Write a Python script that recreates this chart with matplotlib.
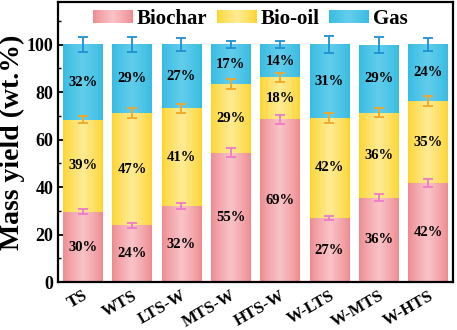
import numpy as np
import matplotlib
matplotlib.use("Agg")
import matplotlib.pyplot as plt
from matplotlib.colors import to_rgb
from matplotlib.patches import Rectangle
from matplotlib.legend_handler import HandlerBase
from matplotlib.transforms import ScaledTranslation

categories = ["TS", "WTS", "LTS-W", "MTS-W", "HTS-W", "W-LTS", "W-MTS", "W-HTS"]
biochar = [29.6, 23.9, 32.0, 54.6, 68.6, 27.0, 35.6, 41.7]
biooil = [38.8, 47.3, 41.2, 28.9, 17.6, 42.2, 35.8, 34.6]
gas = [31.6, 28.8, 26.8, 16.6, 13.8, 30.8, 28.6, 23.7]
biochar_err = [1.0, 0.9, 1.2, 1.8, 2.0, 1.0, 1.5, 1.6]
biooil_err = [1.5, 2.2, 2.0, 2.0, 1.7, 2.2, 1.8, 2.2]
gas_err = [3.2, 3.2, 2.8, 1.5, 1.5, 3.5, 3.3, 2.8]
series_names = ["Biochar", "Bio-oil", "Gas"]

plt.rcParams['font.family'] = ['Liberation Serif', 'DejaVu Serif']
plt.rcParams['font.weight'] = 'bold'

grad = {
    "Biochar": ("#ee8a90", "#f8c3c7"),
    "Bio-oil": ("#fdd52f", "#feeb95"),
    "Gas": ("#36bbe2", "#62cdeb"),
}
errc = {"Biochar": "#f07ac8", "Bio-oil": "#f5a623", "Gas": "#1e90d0"}


def gradient_rgb(name, n=64):
    e = np.array(to_rgb(grad[name][0]))
    c = np.array(to_rgb(grad[name][1]))
    xx = np.linspace(0, 1, n)
    t = 1 - np.abs(2 * xx - 1)
    t = t ** 0.8
    return e[None, :] * (1 - t[:, None]) + c[None, :] * t[:, None]


fig = plt.figure(figsize=(4.57, 3.30), dpi=100)
ax = fig.add_axes([0.127, 0.145, 0.864, 0.849])

x = np.arange(len(categories))
width = 0.8
bottoms = np.zeros(len(categories))
data = [biochar, biooil, gas]
errs = [biochar_err, biooil_err, gas_err]

ax.set_xlim(-0.5, 7.5)
ax.set_ylim(0, 118)

for name, vals, err in zip(series_names, data, errs):
    vals = np.array(vals)
    bars = ax.bar(x, vals, width, bottom=bottoms, color=grad[name][0], linewidth=0, zorder=1)
    g = gradient_rgb(name)[None, :, :]
    for b in bars:
        ax.imshow(g, extent=(b.get_x(), b.get_x() + b.get_width(), b.get_y(), b.get_y() + b.get_height()),
                  aspect='auto', interpolation='bilinear', zorder=2)
    tops = bottoms + vals
    ax.errorbar(x, tops, yerr=err, fmt='none', ecolor=errc[name], elinewidth=1.3,
                capsize=3.5, capthick=1.3, zorder=4)
    for xi, bo, v in zip(x, bottoms, vals):
        ax.text(xi, bo + v / 2, f"{round(v)}%", ha='center', va='center',
                fontsize=10.5, fontweight='bold', zorder=5)
    bottoms = tops

ax.set_xlim(-0.5, 7.5)
ax.set_ylim(0, 118)
ax.set_xticks(x)
ax.set_xticklabels(categories, rotation=30, fontsize=12, fontweight='bold',
                   ha='right', rotation_mode='anchor')
off = ScaledTranslation(4 / 72, 0, fig.dpi_scale_trans)
for lab in ax.get_xticklabels():
    lab.set_transform(lab.get_transform() + off)
ax.set_yticks(np.arange(0, 101, 20))
ax.set_yticks(np.arange(10, 118, 10), minor=True)
ax.tick_params(axis='y', which='major', direction='in', length=4, width=1.3, labelsize=13)
ax.tick_params(axis='y', which='minor', direction='in', length=2.5, width=1.0)
ax.tick_params(axis='x', which='major', direction='in', length=4, width=1.3, pad=4)
for lab in ax.get_yticklabels():
    lab.set_fontweight('bold')
for s in ax.spines.values():
    s.set_linewidth(1.6)
ax.set_ylabel("Mass yield (wt.%)", fontsize=20, fontweight='bold', labelpad=1)


class GradHandler(HandlerBase):
    def __init__(self, name):
        super().__init__()
        self.name = name

    def create_artists(self, legend, orig_handle, xdescent, ydescent, width, height, fontsize, trans):
        cols = gradient_rgb(self.name, 40)
        n = len(cols)
        arts = []
        for i, c in enumerate(cols):
            r = Rectangle((-xdescent + width * i / n, -ydescent), width / n * 1.05, height,
                          facecolor=c, edgecolor='none', transform=trans)
            arts.append(r)
        return arts


handles = [Rectangle((0, 0), 1, 1) for _ in series_names]
hmap = {h: GradHandler(n) for h, n in zip(handles, series_names)}
ax.legend(handles, series_names, handler_map=hmap, loc='center', bbox_to_anchor=(0.487, 0.94),
          ncol=3, frameon=False, handlelength=1.9, handleheight=0.6,
          handletextpad=0.2, columnspacing=0.45, borderpad=0.2,
          prop={'weight': 'bold', 'size': 15})

fig.savefig("out.png", dpi=100)
